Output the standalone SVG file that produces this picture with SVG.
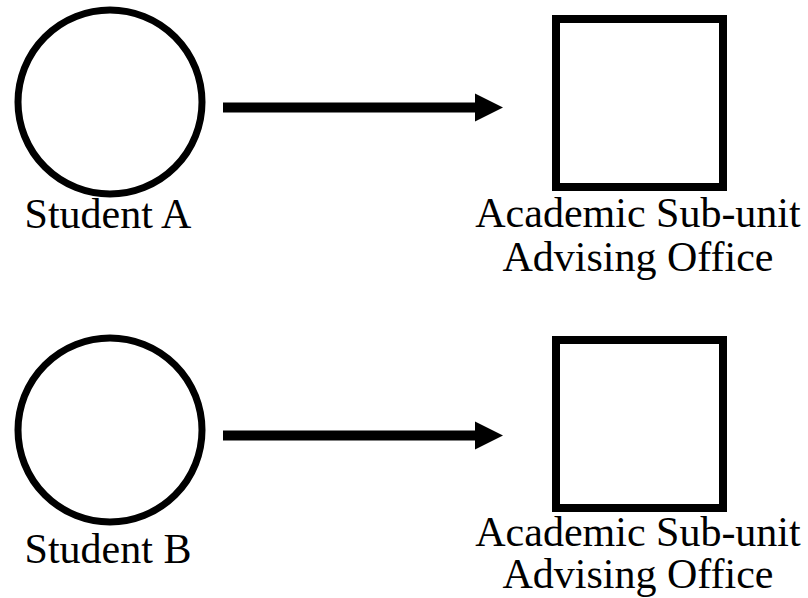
<svg xmlns="http://www.w3.org/2000/svg" width="808" height="598" viewBox="0 0 808 598">
  <style>
    .shape { fill: #ffffff; stroke: #000000; }
    .circ { stroke-width: 7; }
    .box { stroke-width: 8; }
    .lbl { font-family: "Liberation Serif", serif; font-size: 42px; fill: #000000; text-anchor: middle; }
    .edge { stroke: #000000; stroke-width: 10; fill: none; }
    .head { fill: #000000; stroke: none; }
  </style>
  <rect x="0" y="0" width="808" height="598" fill="#ffffff"/>
  <g id="student-a">
    <circle class="shape circ" cx="110" cy="102" r="92"/>
    <text class="lbl" x="108" y="228">Student A</text>
  </g>
  <g id="office-a">
    <rect class="shape box" x="556" y="19" width="167" height="168"/>
    <text class="lbl" x="638" y="227">Academic Sub-unit</text>
    <text class="lbl" x="638" y="271">Advising Office</text>
  </g>
  <g id="student-b">
    <circle class="shape circ" cx="110" cy="430" r="92"/>
    <text class="lbl" x="108" y="563">Student B</text>
  </g>
  <g id="office-b">
    <rect class="shape box" x="556" y="340" width="167" height="168"/>
    <text class="lbl" x="638" y="546">Academic Sub-unit</text>
    <text class="lbl" x="638" y="588">Advising Office</text>
  </g>
  <g id="connectors">
    <line class="edge" x1="223" y1="107.5" x2="477" y2="107.5"/>
    <polygon class="head" points="475,93.5 503,107.5 475,121.5"/>
    <line class="edge" x1="223" y1="435.5" x2="477" y2="435.5"/>
    <polygon class="head" points="475,421.5 503,435.5 475,449.5"/>
  </g>
</svg>
